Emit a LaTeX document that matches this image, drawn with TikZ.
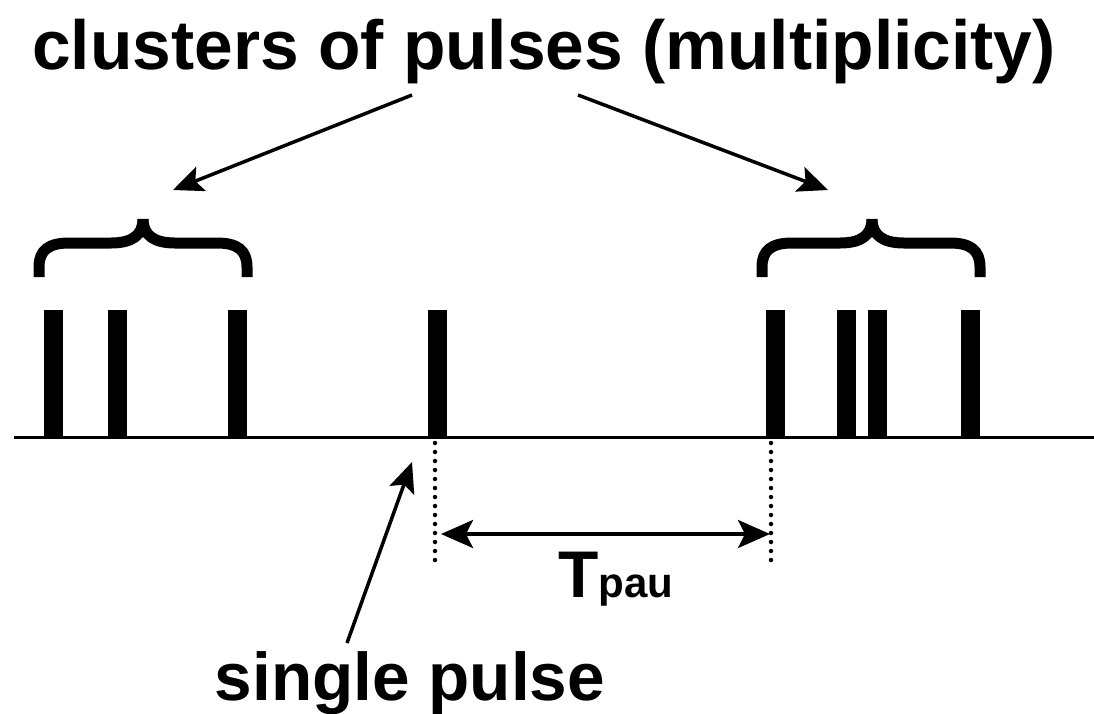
\documentclass[tikz,border=0pt]{standalone}
\usepackage{fontspec}
\setmainfont{Liberation Sans}
\usetikzlibrary{arrows.meta}

\newcommand\pulsebrace[3]{%
  % #1 left end, #2 tip, #3 right end (x positions)
  \draw[bracestroke] (#1,277) -- (#1,267)
    .. controls (#1,250) and (#1+10,243) .. (#1+30,243)
    -- (#2-32,243) .. controls (#2-12,243) and (#2,236) .. (#2,219);
  \draw[bracestroke] (#2,219) .. controls (#2,236) and (#2+12,243) .. (#2+32,243)
    -- (#3-30,243) .. controls (#3-10,243) and (#3,250) .. (#3,267) -- (#3,277);
}

\begin{document}
\begin{tikzpicture}[x=1pt,y=-1pt,
  pulse/.style={line width=19pt},
  bracestroke/.style={line width=11pt, line cap=butt},
  pointer/.style={line width=3.5pt, -{Stealth[length=30pt,width=26pt,inset=6pt]}},
  span/.style={line width=3.5pt, {Stealth[length=32pt,width=28pt,inset=7pt]}-{Stealth[length=32pt,width=28pt,inset=7pt]}},
  marker/.style={line width=4.5pt, line cap=round, dash pattern=on 0pt off 9pt},
  label/.style={inner sep=0pt, font=\bfseries}]

\useasboundingbox (0,0) rectangle (1094,713);

% time axis
\draw[line width=3pt] (14,437) -- (1094,437);

% left cluster of three pulses
\foreach \x in {53,117,237} \draw[pulse] (\x,437) -- (\x,310);
% single pulse
\draw[pulse] (437,437) -- (437,310);
% right cluster of four pulses
\foreach \x in {775,846,877,970} \draw[pulse] (\x,437) -- (\x,310);

% braces over the clusters
\pulsebrace{39}{143}{247}
\pulsebrace{762}{872}{980}

% headings and labels
\node[label, anchor=base] (title) at (544,69)
  {\fontsize{69.5}{78}\selectfont clusters of pulses (multiplicity)};
\node[label, anchor=base] (single) at (410,700)
  {\fontsize{67.5}{72}\selectfont single pulse};
\node[label, anchor=base west] (tpau) at (558,597)
  {\fontsize{66}{72}\selectfont T\fontsize{42}{46}\selectfont pau};

% pointers from the heading to the braces
\coordinate (tl) at (412,95);
\coordinate (tr) at (578,95);
\coordinate (bl) at (173,190);
\coordinate (br) at (828,190);
\draw[pointer] (tl) -- (bl);
\draw[pointer] (tr) -- (br);

% pointer from the label to the single pulse
\coordinate (st) at (347,643);
\coordinate (sp) at (412,462);
\draw[pointer] (st) -- (sp);

% pause interval markers
\coordinate (m1a) at (435,443);
\coordinate (m1b) at (435,562);
\coordinate (m2a) at (771,443);
\coordinate (m2b) at (771,562);
\draw[marker] (m1a) -- (m1b);
\draw[marker] (m2a) -- (m2b);

\coordinate (pl) at (441,534);
\coordinate (pr) at (770,534);
\draw[span] (pl) -- (pr);
\end{tikzpicture}
\end{document}
